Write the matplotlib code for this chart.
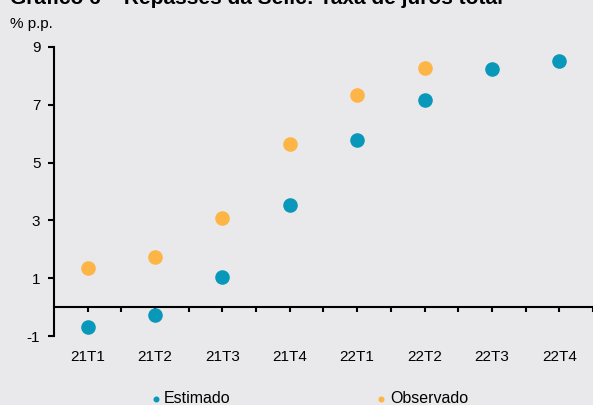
import numpy as np
import matplotlib.pyplot as plt

plt.rcParams['font.family'] = ['Liberation Sans', 'DejaVu Sans']

# data
trimestres = ['21T1', '21T2', '21T3', '21T4', '22T1', '22T2', '22T3', '22T4']
estimado = [-0.69, -0.26, 1.03, 3.54, 5.80, 7.18, 8.23, 8.51]
observado = [1.34, 1.74, 3.10, 5.63, 7.33, 8.26]
yticks = [-1, 1, 3, 5, 7, 9]

azul = '#0A98BA'
laranja = '#FDB545'
fundo = '#E9E9EB'

fig = plt.figure(figsize=(5.93, 4.05), dpi=100, facecolor=fundo)
ax = fig.add_axes([0.091, 0.170, 0.909, 0.714])
ax.set_facecolor(fundo)

x = np.arange(len(trimestres))
ax.scatter(x, estimado, s=90, color=azul, zorder=3, label='Estimado')
ax.scatter(x[:len(observado)], observado, s=90, color=laranja, zorder=3, label='Observado')

ax.set_xlim(-0.5, len(trimestres) - 0.5)
ax.set_ylim(-1, 9)
ax.set_yticks(yticks)
ax.set_yticklabels([str(v) for v in yticks])

# x axis drawn at zero, labels below the plot
ax.spines['bottom'].set_position(('data', 0))
ax.spines['top'].set_visible(False)
ax.spines['right'].set_visible(False)
ax.spines['left'].set_linewidth(1.5)
ax.spines['bottom'].set_linewidth(1.5)
ax.set_xticks(x)
ax.set_xticklabels(trimestres)
ax.set_xticks(x + 0.5, minor=True)
ax.tick_params(axis='x', which='both', direction='out', length=3.5, width=1.5,
               pad=27, labelsize=11)
ax.tick_params(axis='y', direction='out', length=4.3, width=1.5, pad=5.5, labelsize=11)

fig.text(10 / 593, 1 - 4.5 / 405, 'Gráfico 6 – Repasses da Selic: Taxa de juros total',
         fontsize=15, fontweight='bold', va='baseline', ha='left')
fig.text(9.5 / 593, 1 - 28 / 405, '% p.p.', fontsize=11, va='baseline', ha='left')

h, l = ax.get_legend_handles_labels()
leg = fig.legend(h, l, loc='center left', bbox_to_anchor=(0.246, 0.016), ncol=2,
                 frameon=False, fontsize=11.5, handlelength=0.45, handletextpad=0.3,
                 columnspacing=9.2, markerscale=0.35, borderaxespad=0)

fig.savefig('out.png', dpi=100, facecolor=fundo)
